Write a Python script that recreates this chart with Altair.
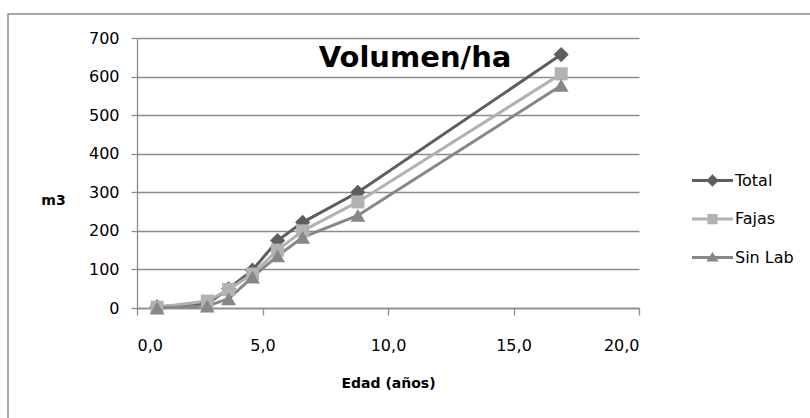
import altair as alt
import pandas as pd

edad = [0.8, 2.8, 3.65, 4.6, 5.6, 6.6, 8.8, 16.9]
total = [3, 11, 50, 98, 175, 222, 300, 657]
fajas = [2, 18, 48, 88, 150, 200, 275, 607]
sinlab = [0, 5, 24, 80, 135, 183, 240, 577]

series = ["Total", "Fajas", "Sin Lab"]
colors = ["#5e5e5e", "#b2b2b2", "#878787"]

rows = []
for name, vals in zip(series, [total, fajas, sinlab]):
    for e, v in zip(edad, vals):
        rows.append({"edad": e, "vol": v, "serie": name})
df = pd.DataFrame(rows)

FONT = "DejaVu Sans"

color_scale = alt.Scale(domain=series, range=colors)

leg = alt.Legend(
    title=None,
    orient="none",
    legendX=555,
    legendY=122,
    padding=0,
    symbolSize=1681,
    symbolStrokeWidth=0,
    symbolOpacity=1,
    rowPadding=9.5,
    labelOffset=2,
    labelFontSize=16,
    labelFont=FONT,
    labelColor="#000000",
)

x_enc = alt.X(
    "edad:Q",
    scale=alt.Scale(domain=[0, 20], nice=False),
    axis=alt.Axis(
        values=[0, 5, 10, 15, 20],
        labelExpr="replace(format(datum.value, '.1f'), '.', ',')",
        title="Edad (años)",
        grid=False,
        tickSize=7,
        labelPadding=22,
        titleY=75,
        titleBaseline="middle",
    ),
)
y_enc = alt.Y(
    "vol:Q",
    scale=alt.Scale(domain=[0, 700], nice=False),
    axis=alt.Axis(
        values=[0, 100, 200, 300, 400, 500, 600, 700],
        tickCount=8,
        title="m3",
        titleAngle=0,
        titleX=-84,
        titleY=162,
        titleAlign="center",
        titleBaseline="middle",
        tickSize=6,
        labelPadding=12,
        labelOverlap=False,
    ),
)

color_enc = alt.Color("serie:N", scale=color_scale, legend=leg)

base = alt.Chart(df).encode(x=x_enc, y=y_enc)

lines = base.mark_line(strokeWidth=3).encode(color=color_enc, detail="serie:N")

shape_map = {"Total": "diamond", "Fajas": "square", "Sin Lab": "triangle-up"}
size_map = {"Total": 230, "Fajas": 170, "Sin Lab": 220}
pts = []
for s in series:
    pts.append(
        base.transform_filter(alt.datum.serie == s)
        .mark_point(filled=True, opacity=1, shape=shape_map[s], size=size_map[s])
        .encode(color=color_enc)
    )

legend_paths = [
    "M-1,-0.075H1V0.075H-1Z M0,-0.3L0.3,0L0,0.3L-0.3,0Z",
    "M-1,-0.075H1V0.075H-1Z M-0.25,-0.25H0.25V0.25H-0.25Z",
    "M-1,-0.075H1V0.075H-1Z M0,-0.27L0.3,0.2L-0.3,0.2Z",
]

legend_layer = base.mark_point(filled=True).encode(
    color=color_enc,
    shape=alt.Shape("serie:N", scale=alt.Scale(domain=series, range=legend_paths), legend=leg),
    size=alt.value(0),
)

frame = (
    alt.Chart(pd.DataFrame({"a": [0]}))
    .mark_rect(fill=None, stroke="#8a8a8a", strokeWidth=1.5)
    .encode(
        x=alt.value(-129),
        x2=alt.value(700),
        y=alt.value(-24),
        y2=alt.value(400),
    )
)

chart = (
    alt.layer(legend_layer, frame, lines, *pts)
    .properties(
        width=502,
        height=270,
        title=alt.TitleParams(
            "Volumen/ha",
            fontSize=29,
            fontWeight="bold",
            font=FONT,
            anchor="middle",
            dx=27,
            dy=51,
            offset=-32,
            baseline="alphabetic",
            color="#000000",
        ),
        autosize=alt.AutoSizeParams(type="none"),
        padding={"left": 137, "top": 38, "right": 171, "bottom": 110},
    )
    .configure_view(stroke=None)
    .configure_axis(
        gridColor="#8c8c8c",
        gridWidth=1.3,
        domainColor="#8c8c8c",
        domainWidth=1.3,
        tickColor="#8c8c8c",
        tickWidth=1.3,
        labelFont=FONT,
        labelFontSize=16,
        labelColor="#000000",
        titleFont=FONT,
        titleFontSize=14,
        titleFontWeight="bold",
        titleColor="#000000",
    )
    .configure_axisX(grid=False)
    .configure_axisY(domain=True, grid=True)
)

chart.save("out.html", embed_options={"renderer": "svg", "actions": False})
